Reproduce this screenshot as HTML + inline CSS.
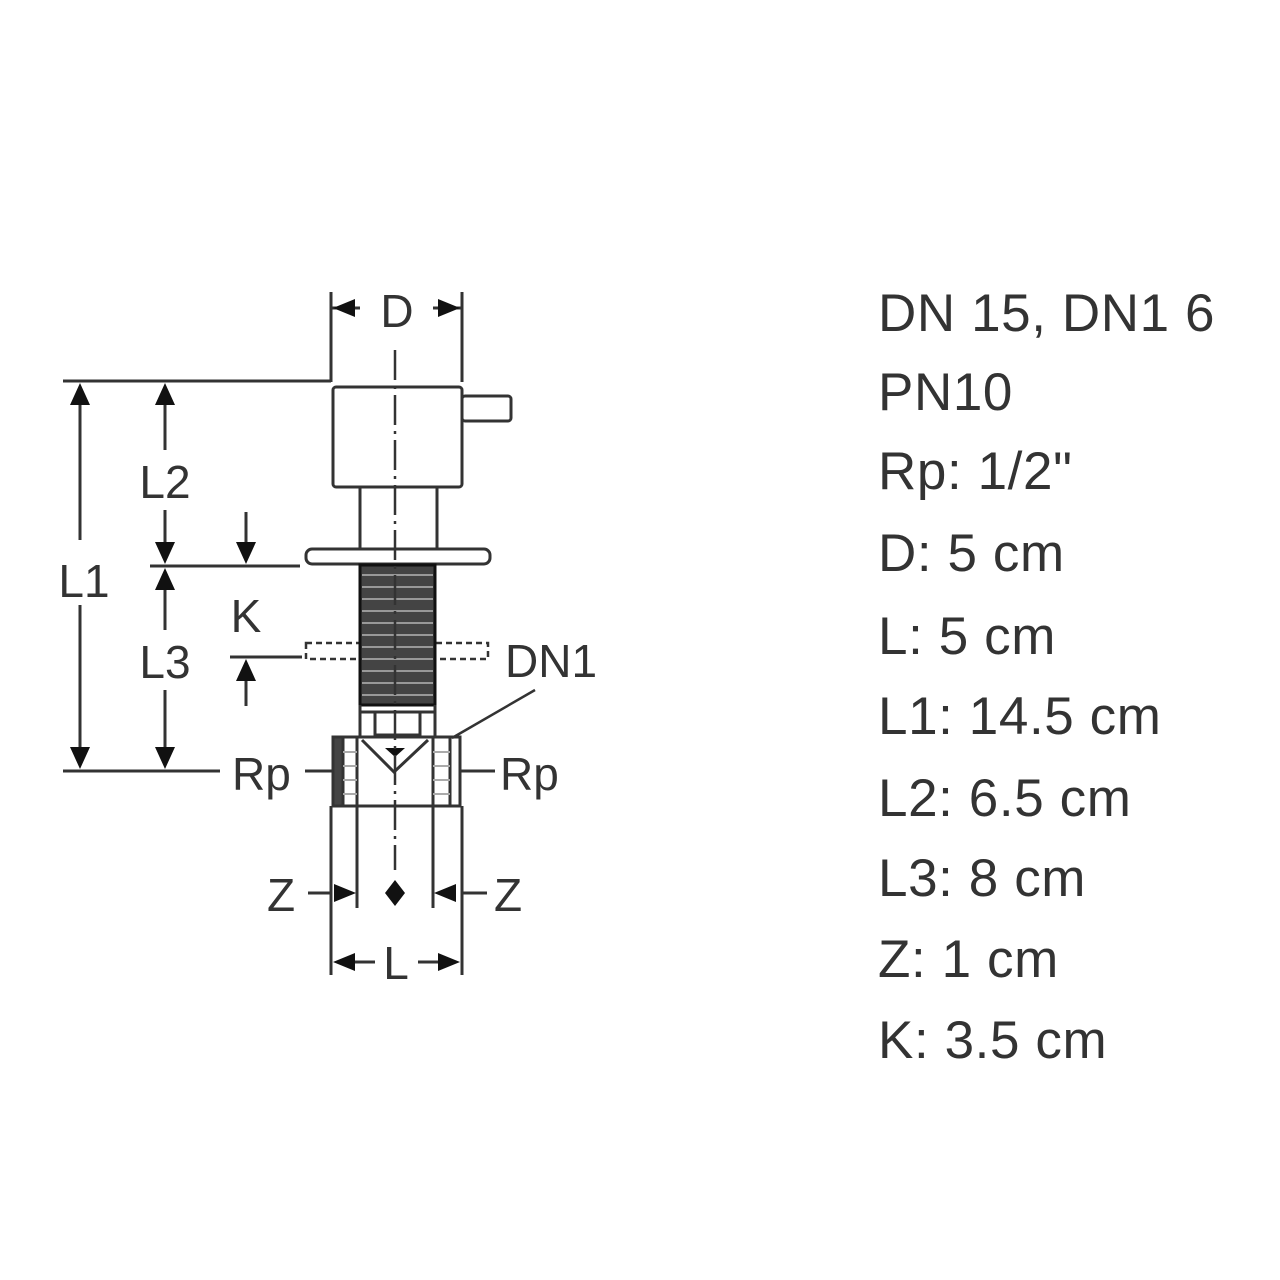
<!DOCTYPE html>
<html><head><style>
html,body{margin:0;padding:0;background:#fff;}
svg{display:block;}
text{font-family:"Liberation Sans",Arial,sans-serif;fill:#333;}
</style></head><body>
<svg width="1280" height="1280" viewBox="0 0 1280 1280" xmlns="http://www.w3.org/2000/svg">
<g stroke="#333" stroke-width="3" fill="none">
<line x1="331" y1="292" x2="331" y2="382"/>
<line x1="462" y1="292" x2="462" y2="382"/>
<path d="M331,308 L360,308" />
<path d="M462,308 L433,308"/>
<polygon points="333,308 355,299 355,317" fill="#111" stroke="none"/>
<polygon points="460,308 438,299 438,317" fill="#111" stroke="none"/>
<line x1="63" y1="381" x2="331" y2="381"/>
<rect x="333" y="387" width="129" height="100" rx="3"/>
<rect x="462" y="396" width="49" height="25" rx="3"/>
<line x1="360" y1="487" x2="360" y2="550"/>
<line x1="437" y1="487" x2="437" y2="550"/>
<rect x="306" y="549" width="184" height="15" rx="6"/>
<line x1="150" y1="566" x2="300" y2="566"/>
<rect x="306" y="643" width="182" height="16" stroke-dasharray="6,4" stroke-width="2.5"/>
<line x1="230" y1="657" x2="302" y2="657"/>
<rect x="360" y="565" width="75" height="140" fill="#444" stroke="#111"/>
<g stroke="#999" stroke-width="2">
<line x1="362" y1="575" x2="433" y2="575"/><line x1="362" y1="587" x2="433" y2="587"/><line x1="362" y1="599" x2="433" y2="599"/><line x1="362" y1="611" x2="433" y2="611"/><line x1="362" y1="623" x2="433" y2="623"/><line x1="362" y1="635" x2="433" y2="635"/><line x1="362" y1="647" x2="433" y2="647"/><line x1="362" y1="659" x2="433" y2="659"/><line x1="362" y1="671" x2="433" y2="671"/><line x1="362" y1="683" x2="433" y2="683"/><line x1="362" y1="695" x2="433" y2="695"/>
</g>
<line x1="360" y1="705" x2="360" y2="737"/>
<line x1="435" y1="705" x2="435" y2="737"/>
<line x1="360" y1="712" x2="435" y2="712"/>
<path d="M375,712 L375,735 L420,735 L420,712"/>
<rect x="333" y="737" width="127" height="69"/>
<rect x="333" y="737" width="10" height="69" fill="#444"/>
<line x1="357" y1="737" x2="357" y2="806"/>
<line x1="433" y1="737" x2="433" y2="806"/>
<line x1="450" y1="737" x2="450" y2="806"/>
<g stroke="#aaa" stroke-width="2"><line x1="343" y1="752" x2="357" y2="752"/><line x1="343" y1="766" x2="357" y2="766"/><line x1="343" y1="780" x2="357" y2="780"/><line x1="343" y1="794" x2="357" y2="794"/><line x1="433" y1="752" x2="450" y2="752"/><line x1="433" y1="766" x2="450" y2="766"/><line x1="433" y1="780" x2="450" y2="780"/><line x1="433" y1="794" x2="450" y2="794"/></g>
<path d="M362,740 L394,772 L428,740"/>
<polygon points="385,748 405,748 395,757" fill="#111" stroke="none"/>
<line x1="452" y1="738" x2="535" y2="690" stroke-width="2.5"/>
<line x1="63" y1="771" x2="220" y2="771"/>
<line x1="305" y1="771" x2="333" y2="771"/>
<line x1="460" y1="771" x2="495" y2="771"/>
<line x1="395" y1="350" x2="395" y2="870" stroke-width="2.5" stroke-dasharray="30,6,3,6"/>
<polygon points="395,880 405,893 395,906 385,893" fill="#111" stroke="none"/>
<line x1="331" y1="806" x2="331" y2="975"/>
<line x1="357" y1="806" x2="357" y2="908"/>
<line x1="433" y1="806" x2="433" y2="908"/>
<line x1="462" y1="806" x2="462" y2="975"/>
<line x1="308" y1="893" x2="330" y2="893"/>
<polygon points="356,893 334,884 334,902" fill="#111" stroke="none"/>
<line x1="462" y1="893" x2="487" y2="893"/>
<polygon points="434,893 456,884 456,902" fill="#111" stroke="none"/>
<polygon points="333,962 355,953 355,971" fill="#111" stroke="none"/>
<line x1="355" y1="962" x2="375" y2="962"/>
<polygon points="460,962 438,953 438,971" fill="#111" stroke="none"/>
<line x1="418" y1="962" x2="438" y2="962"/>
<line x1="80" y1="400" x2="80" y2="540"/>
<line x1="80" y1="605" x2="80" y2="750"/>
<polygon points="80,383 70,405 90,405" fill="#111" stroke="none"/>
<polygon points="80,769 70,747 90,747" fill="#111" stroke="none"/>
<line x1="165" y1="400" x2="165" y2="450"/>
<line x1="165" y1="510" x2="165" y2="545"/>
<polygon points="165,383 155,405 175,405" fill="#111" stroke="none"/>
<polygon points="165,564 155,542 175,542" fill="#111" stroke="none"/>
<polygon points="165,568 155,590 175,590" fill="#111" stroke="none"/>
<line x1="165" y1="590" x2="165" y2="630"/>
<line x1="165" y1="690" x2="165" y2="750"/>
<polygon points="165,769 155,747 175,747" fill="#111" stroke="none"/>
<line x1="246" y1="512" x2="246" y2="545"/>
<polygon points="246,564 236,542 256,542" fill="#111" stroke="none"/>
<polygon points="246,659 236,681 256,681" fill="#111" stroke="none"/>
<line x1="246" y1="681" x2="246" y2="706"/>
</g>
<g font-size="46">
<text x="397" y="327" text-anchor="middle">D</text>
<text x="84" y="597" text-anchor="middle">L1</text>
<text x="165" y="498" text-anchor="middle">L2</text>
<text x="165" y="678" text-anchor="middle">L3</text>
<text x="246" y="632" text-anchor="middle">K</text>
<text x="505" y="677">DN1</text>
<text x="232" y="790">Rp</text>
<text x="500" y="790">Rp</text>
<text x="267" y="911">Z</text>
<text x="494" y="911">Z</text>
<text x="396" y="979" text-anchor="middle">L</text>
</g>
<g font-size="53" letter-spacing="0.6">
<text x="878" y="331">DN 15, DN1 6</text>
<text x="878" y="410">PN10</text>
<text x="878" y="489">Rp: 1/2"</text>
<text x="878" y="571">D: 5 cm</text>
<text x="878" y="654">L: 5 cm</text>
<text x="878" y="734">L1: 14.5 cm</text>
<text x="878" y="816">L2: 6.5 cm</text>
<text x="878" y="896">L3: 8 cm</text>
<text x="878" y="977">Z: 1 cm</text>
<text x="878" y="1058">K: 3.5 cm</text>
</g>
</svg>
</body></html>
